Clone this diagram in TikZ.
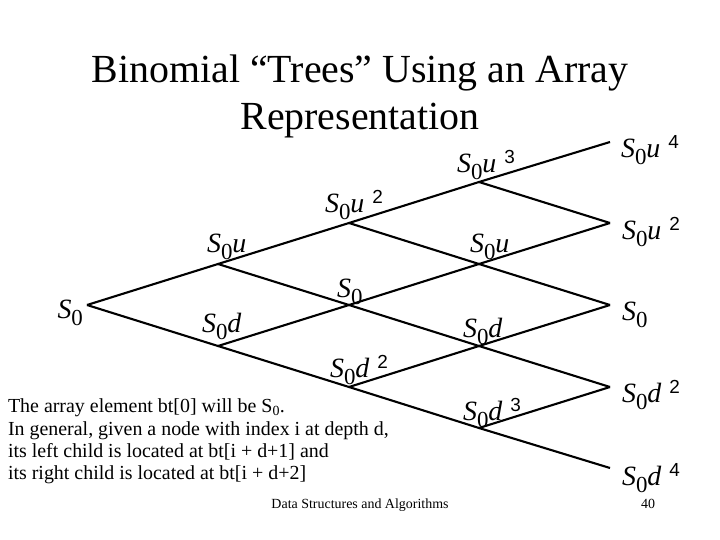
\documentclass[tikz,border=0pt]{standalone}
\usepackage{fontspec}
\setmainfont{Liberation Serif}
\setsansfont{Liberation Sans}
\usepackage{tikz}
\usetikzlibrary{positioning}

\newcommand{\Sz}{\textit{S}\raisebox{-7bp}{\fontsize{23}{23}\selectfont 0}}
\newcommand{\Pw}[1]{\hspace{8bp}\raisebox{9bp}{\sffamily\fontsize{19}{19}\selectfont #1}}

\begin{document}
\begin{tikzpicture}[
    x=1bp, y=-1bp,
    line width=2.1bp,
    every node/.style={inner sep=0pt},
    val/.style={anchor=base west, font=\fontsize{28}{30}\selectfont},
    note/.style={font=\fontsize{20}{22.3}\selectfont, align=left},
    foot/.style={anchor=base, font=\fontsize{14}{16}\selectfont}
]
\useasboundingbox (0,0) rectangle (720,540);

% Title
\node[anchor=base, font=\fontsize{40}{47}\selectfont] (TITLE)  at (360,83)  {Binomial “Trees” Using an Array};
\node[anchor=base, font=\fontsize{40}{47}\selectfont] (TITLE2) at (360,130) {Representation};

% Lattice points
\coordinate (R)    at (87,305);
\coordinate (U)    at (218,264);
\coordinate (D)    at (218,346);
\coordinate (UU)   at (349,223);
\coordinate (UD)   at (349,305);
\coordinate (DD)   at (349,387);
\coordinate (UUU)  at (479,182);
\coordinate (UUD)  at (479,264);
\coordinate (UDD)  at (479,346);
\coordinate (DDD)  at (479,428);
\coordinate (UUUU) at (610,142);
\coordinate (UUUD) at (610,223);
\coordinate (UUDD) at (610,305);
\coordinate (UDDD) at (610,387);
\coordinate (DDDD) at (610,468);

% Branches
\path (R)   edge (U)    edge (D)
      (U)   edge (UU)   edge (UD)
      (D)   edge (UD)   edge (DD)
      (UU)  edge (UUU)  edge (UUD)
      (UD)  edge (UUD)  edge (UDD)
      (DD)  edge (UDD)  edge (DDD)
      (UUU) edge (UUUU) edge (UUUD)
      (UUD) edge (UUUD) edge (UUDD)
      (UDD) edge (UUDD) edge (UDDD)
      (DDD) edge (UDDD) edge (DDDD);

% Values
\node[val, anchor=base east] (vR) at (84,318) {\Sz};
\node[val] (vU)    at (206,253) {\Sz\textit{u}};
\node[val] (vD)    at (201,332) {\Sz\textit{d}};
\node[val] (vUU)   at (324,213) {\Sz\textit{u}\Pw{2}};
\node[val] (vUD)   at (336,297) {\Sz};
\node[val] (vDD)   at (329,377) {\Sz\textit{d}\Pw{2}};
\node[val] (vUUU)  at (456,173) {\Sz\textit{u}\Pw{3}};
\node[val] (vUUD)  at (469,253) {\Sz\textit{u}};
\node[val] (vUDD)  at (462,337) {\Sz\textit{d}};
\node[val] (vDDD)  at (462,420) {\Sz\textit{d}\Pw{3}};
\node[val] (vUUUU) at (620,158) {\Sz\textit{u}\Pw{4}};
\node[val] (vUUUD) at (621,240) {\Sz\textit{u}\Pw{2}};
\node[val] (vUUDD) at (621,320) {\Sz};
\node[val] (vUDDD) at (621,402) {\Sz\textit{d}\Pw{2}};
\node[val] (vDDDD) at (621,485) {\Sz\textit{d}\Pw{4}};

% Explanation
\node[note, anchor=north west] (NOTE) at (7,398)
  {The array element bt[0] will be S\textsubscript{0}.\\
   In general, given a node with index i at depth d,\\
   its left child is located at bt[i + d+1] and\\
   its right child is located at bt[i + d+2]};

% Footer
\node[foot] (FOOT) at (360,508) {Data Structures and Algorithms};
\node[foot] (PAGE) at (648,508) {40};

\end{tikzpicture}
\end{document}
